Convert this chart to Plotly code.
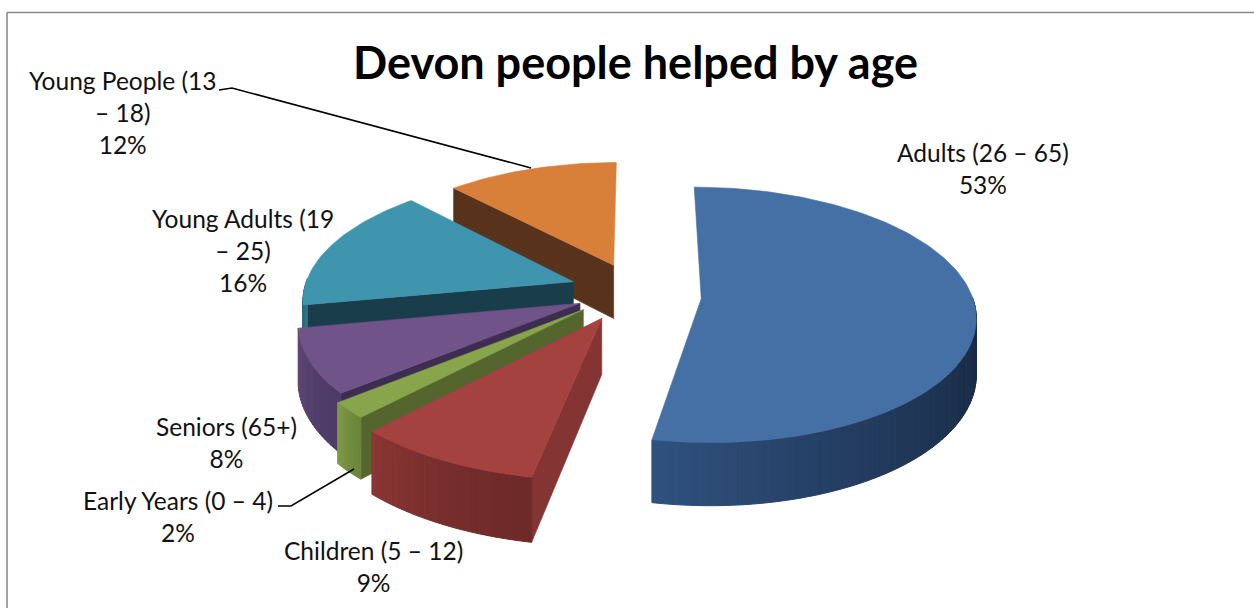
import numpy as np
import plotly.graph_objects as go

labels = ["Adults (26 – 65)", "Children (5 – 12)", "Early Years (0 – 4)",
          "Seniors (65+)", "Young Adults (19<br>– 25)", "Young People (13<br>– 18)"]
values = [53, 9, 2, 8, 16, 12]
top_colors = ["#4570A6", "#A44240", "#88A54C", "#6F5389", "#3F95AE", "#D8803A"]
cut_colors = ["#1A2D47", "#843432", "#54662E", "#3E2D51", "#1A3D4C", "#58321A"]
wall_near = ["#30517F", "#8A3634", "#7F9B47", "#5F4878", "#2F7488", "#A8622A"]
wall_far = ["#182A44", "#6E2A28", "#6C853A", "#4E3B66", "#2A6678", "#8A5020"]
label_xy = [(983, 168), (373, 566), (178, 516), (226, 442), (243, 250), (122, 112)]

# projection settings for the exploded, tilted pie
CX, CY = 639, 296
RX, RY = 271, 125
PERSP = 0.126
PULL = 0.23
DEPTH = 55
NUDGE_U = [0, -0.03, -0.035, -0.008, -0.027, -0.012]
NUDGE_V = [0, -0.03, -0.05, -0.04, -0.045, -0.04]
RSCALE = [1, 1.07, 1.04, 1.02, 1, 0.98]

def project(u, v, drop=0.0):
    s = 1.0 / (1.0 - PERSP * v)
    return CX + RX * u * s, CY + RY * v * s + drop * s

def hexmix(a, b, t):
    ca = [int(a[i:i + 2], 16) for i in (1, 3, 5)]
    cb = [int(b[i:i + 2], 16) for i in (1, 3, 5)]
    return "#%02x%02x%02x" % tuple(round(x + (y - x) * t) for x, y in zip(ca, cb))

def poly(fig, pts, color, lw=0.6):
    xs, ys = zip(*pts)
    fig.add_trace(go.Scatter(x=list(xs) + [xs[0]], y=list(ys) + [ys[0]], mode="lines",
                             fill="toself", fillcolor=color, hoverinfo="skip",
                             line=dict(color=color, width=lw), showlegend=False))

fig = go.Figure()
total = sum(values)
edges = np.concatenate([[0], np.cumsum(values)]) / total * 2 * np.pi
# painter's order: back of the pie first, then toward the viewer
order = [5, 4, 3, 2, 1, 0]
for i in order:
    t1, t2 = edges[i], edges[i + 1]
    mid = (t1 + t2) / 2
    ou, ov = PULL * np.sin(mid) + NUDGE_U[i], -PULL * np.cos(mid) + NUDGE_V[i]
    th = np.linspace(t1, t2, max(8, int(values[i] * 3)))
    rim = [(ou + RSCALE[i] * np.sin(t), ov - RSCALE[i] * np.cos(t)) for t in th]
    apex = (ou, ov)
    if np.sin(t1) < -1e-6:
        poly(fig, [project(*apex), project(*rim[0]), project(*rim[0], DEPTH), project(*apex, DEPTH)], cut_colors[i])
    vis = [k for k in range(len(th) - 1) if np.cos((th[k] + th[k + 1]) / 2) < 0.02]
    for k in vis:
        frac = (k - vis[0] + 0.5) / max(1, len(vis))
        poly(fig, [project(*rim[k]), project(*rim[k + 1]), project(*rim[k + 1], DEPTH), project(*rim[k], DEPTH)],
             hexmix(wall_far[i], wall_near[i], frac ** 1.5), lw=1.0)
    poly(fig, [project(*apex)] + [project(*p) for p in rim], top_colors[i])

# leader lines
for pts in [[(219, 90), (232, 88), (531, 168)], [(278, 506), (291, 506), (354, 469)]]:
    xs, ys = zip(*pts)
    fig.add_trace(go.Scatter(x=xs, y=ys, mode="lines", line=dict(color="#000000", width=1.5),
                             hoverinfo="skip", showlegend=False))

annotations = [dict(x=x, y=y, text=f"{n}<br>{v}%", showarrow=False, xanchor="center", yanchor="middle",
                    font=dict(family="Lato", size=24.5, color="#111111"), align="center")
               for n, v, (x, y) in zip(labels, values, label_xy)]
annotations.append(dict(x=635, y=62, text="<b>Devon people helped by age</b>", showarrow=False,
                        font=dict(family="Lato", size=45, color="#000000"), xanchor="center", yanchor="middle"))

fig.update_layout(
    width=1254, height=608, margin=dict(l=0, r=0, t=0, b=0), paper_bgcolor="white", plot_bgcolor="white",
    xaxis=dict(range=[0, 1254], visible=False, fixedrange=True),
    yaxis=dict(range=[608, 0], visible=False, fixedrange=True),
    annotations=annotations,
    shapes=[dict(type="line", x0=7, x1=7, y0=12.5, y1=608, line=dict(color="#8a8a8a", width=1.6)),
            dict(type="line", x0=7, x1=1254, y0=12.5, y1=12.5, line=dict(color="#8a8a8a", width=1.6))],
)
fig.write_html("out.html", config=dict(displayModeBar=False),
               post_script="document.body.style.margin='0';document.body.style.overflow='hidden';")
